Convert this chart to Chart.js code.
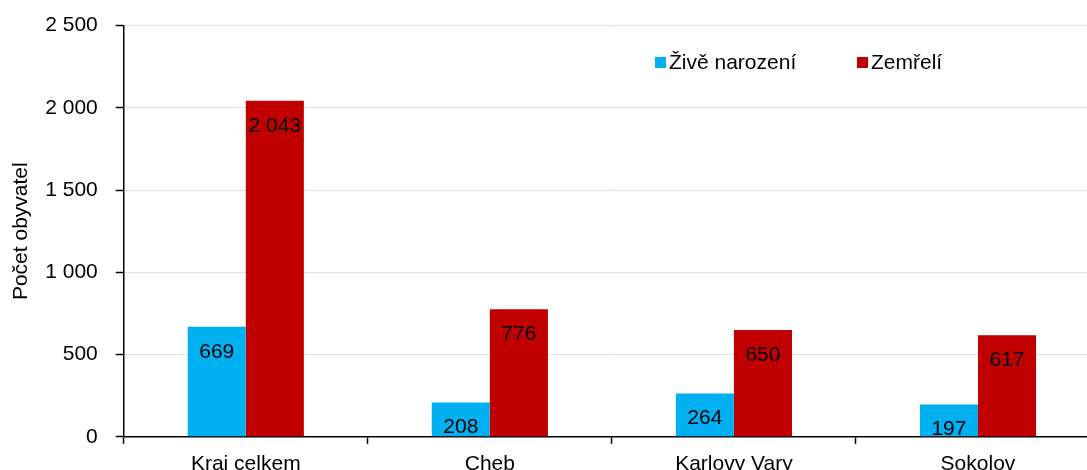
<!DOCTYPE html>
<html>
<head>
<meta charset="utf-8">
<script src="https://cdn.jsdelivr.net/npm/chart.js@4"></script>
<style>
  html, body { margin: 0; padding: 0; background: #fff; overflow: hidden; }
  #wrap { width: 1100px; height: 490px; margin-top: -5px; position: relative; }
</style>
</head>
<body>
<div id="wrap"><canvas id="births-chart"></canvas></div>
<script>
var categories = ['Kraj celkem', 'Cheb', 'Karlovy Vary', 'Sokolov'];
var seriesNames = ['Živě narození', 'Zemřelí'];
var births = [669, 208, 264, 197];
var deaths = [2043, 776, 650, 617];
var yTicks = [0, 500, 1000, 1500, 2000, 2500];

var FONT = "'Liberation Sans', Arial, sans-serif";

function fmt(v) {
    var s = String(v);
    return s.replace(/\B(?=(\d{3})+(?!\d))/g, ' ');
}

// numbers written inside the top of each bar
var barLabels = {
    id: 'barLabels',
    afterDatasetsDraw: function (chart) {
        var ctx = chart.ctx;
        ctx.save();
        ctx.font = '21px ' + FONT;
        ctx.fillStyle = '#000';
        ctx.textAlign = 'center';
        ctx.textBaseline = 'middle';
        chart.data.datasets.forEach(function (ds, i) {
            chart.getDatasetMeta(i).data.forEach(function (bar, j) {
                ctx.fillText(fmt(ds.data[j]), bar.x, bar.y + 25);
            });
        });
        ctx.restore();
    }
};

// legend sitting inside the plot, top right
var innerLegend = {
    id: 'innerLegend',
    afterDraw: function (chart) {
        var ctx = chart.ctx;
        var xs = [655, 857];
        ctx.save();
        ctx.font = '21px ' + FONT;
        ctx.textBaseline = 'middle';
        ctx.textAlign = 'left';
        chart.data.datasets.forEach(function (ds, i) {
            ctx.fillStyle = ds.backgroundColor;
            ctx.fillRect(xs[i], 62, 11, 11);
            ctx.fillStyle = '#000';
            ctx.fillText(ds.label, xs[i] + 14, 68);
        });
        ctx.restore();
    }
};

var ctx = document.getElementById('births-chart').getContext('2d');

new Chart(ctx, {
    type: 'bar',
    data: {
        labels: categories,
        datasets: [{
            label: seriesNames[0],
            backgroundColor: '#00B0F0',
            data: births
        }, {
            label: seriesNames[1],
            backgroundColor: '#C00000',
            data: deaths
        }]
    },
    options: {
        responsive: true,
        maintainAspectRatio: false,
        animation: false,
        barPercentage: 1,
        categoryPercentage: 0.476,
        layout: { padding: { top: 6, left: 0, right: 0, bottom: 0 } },
        plugins: {
            legend: { display: false },
            tooltip: { enabled: false }
        },
        scales: {
            x: {
                grid: {
                    offset: true,
                    drawOnChartArea: false,
                    drawTicks: true,
                    tickLength: 7,
                    tickColor: '#000',
                    tickWidth: 1.5
                },
                border: { color: '#000', width: 1.5 },
                ticks: {
                    color: '#000',
                    font: { family: FONT, size: 21 },
                    padding: 8,
                    maxRotation: 0
                }
            },
            y: {
                min: 0,
                max: 2500,
                afterBuildTicks: function (axis) {
                    axis.ticks = yTicks.map(function (v) { return { value: v }; });
                },
                grid: {
                    color: '#e0e0e0',
                    tickColor: '#000',
                    tickLength: 8,
                    tickWidth: 1.5
                },
                border: { color: '#000', width: 1.5 },
                ticks: {
                    color: '#000',
                    font: { family: FONT, size: 21 },
                    padding: 18,
                    callback: function (v) { return fmt(v); }
                },
                title: {
                    display: true,
                    text: 'Počet obyvatel',
                    color: '#000',
                    font: { family: FONT, size: 21 },
                    padding: { top: 9, bottom: -7 }
                }
            }
        }
    },
    plugins: [barLabels, innerLegend]
});
</script>
</body>
</html>
